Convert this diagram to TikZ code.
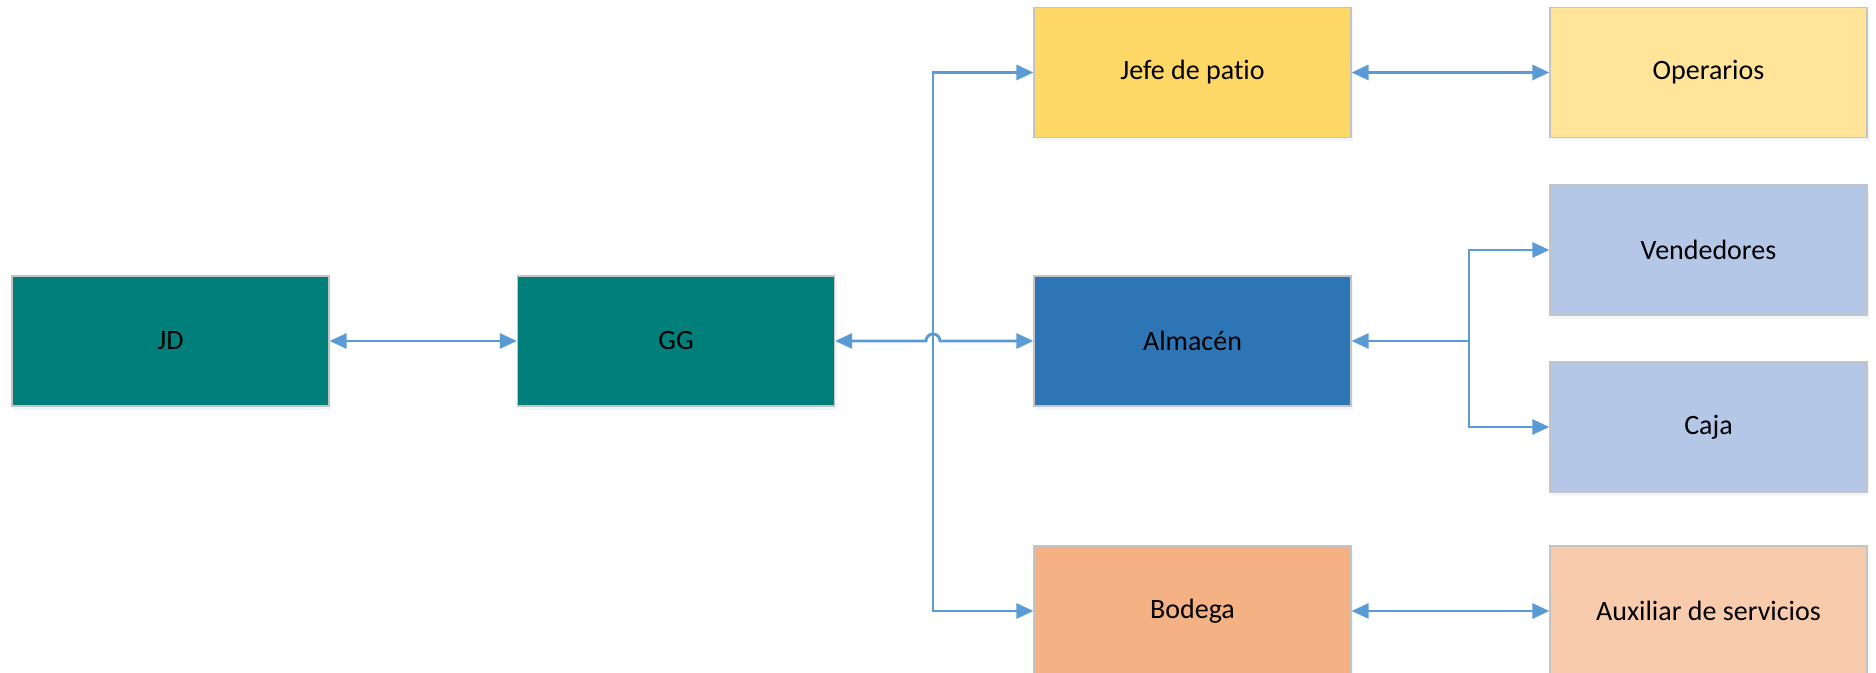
\documentclass[tikz,border=0pt]{standalone}
\usepackage{fontspec}
\setmainfont{Carlito}[Ligatures=NoCommon]
\usetikzlibrary{arrows.meta,shadows}
\definecolor{teal1}{HTML}{007F7B}
\definecolor{jefec}{HTML}{FED866}
\definecolor{operc}{HTML}{FFE499}
\definecolor{almc}{HTML}{2E75B6}
\definecolor{vendc}{HTML}{B4C7E7}
\definecolor{bodc}{HTML}{F4B183}
\definecolor{auxc}{HTML}{F8CBAD}
\definecolor{linec}{HTML}{5B9BD5}
\definecolor{bordc}{HTML}{C4C4C4}
\begin{document}
\begin{tikzpicture}[x=0.5pt,y=-0.5pt,
  box/.style={rectangle, draw=bordc, line width=0.6pt, minimum width=158.5pt, minimum height=65pt,
    inner sep=0pt, font=\fontsize{14}{16}\selectfont, text=black,
    drop shadow={shadow xshift=1pt, shadow yshift=-2pt, fill=linec!25, opacity=0.35}},
  conn/.style={draw=linec, line width=1.4pt, arrows={Triangle[length=8.5pt,width=7.5pt]-Triangle[length=8.5pt,width=7.5pt]}},
  connR/.style={draw=linec, line width=1.4pt, -{Triangle[length=8.5pt,width=7.5pt]}},
  connL/.style={draw=linec, line width=1.4pt, {Triangle[length=8.5pt,width=7.5pt]}-}]
\useasboundingbox (0,0) rectangle (1876,673);
\node[box, fill=teal1] (jd) at (170.5,341) {JD};
\node[box, fill=teal1] (gg) at (676,341) {GG};
\node[box, fill=jefec] (jefe) at (1192.5,72.5) {Jefe de patio};
\node[box, fill=operc] (oper) at (1708.5,72.5) {Operarios};
\node[box, fill=almc] (alm) at (1192.5,341) {Almacén};
\node[box, fill=vendc] (vend) at (1708.5,250) {Vendedores};
\node[box, fill=vendc] (caja) at (1708.5,427) {Caja};
\node[box, fill=bodc] (bod) at (1192.5,611) {Bodega};
\node[box, fill=auxc] (aux) at (1708.5,611) {Auxiliar de servicios};
\coordinate (vt) at (933,72.5);
\coordinate (vb) at (933,611);
\coordinate (hopa) at (926,341);
\coordinate (bus) at (1469,341);
\draw[conn] (jd.east) -- (gg.west);
\draw[conn] (gg.east) -- (hopa) arc[start angle=180, end angle=0, radius=3.5pt] -- (alm.west);
\draw[conn] (jefe.west) -- (vt) -- (vb) -- (bod.west);
\draw[conn] (jefe.east) -- (oper.west);
\draw[conn] (bod.east) -- (aux.west);
\draw[connL] (alm.east) -- (bus);
\draw[connR] (bus) |- (vend.west);
\draw[connR] (bus) |- (caja.west);
\end{tikzpicture}
\end{document}
